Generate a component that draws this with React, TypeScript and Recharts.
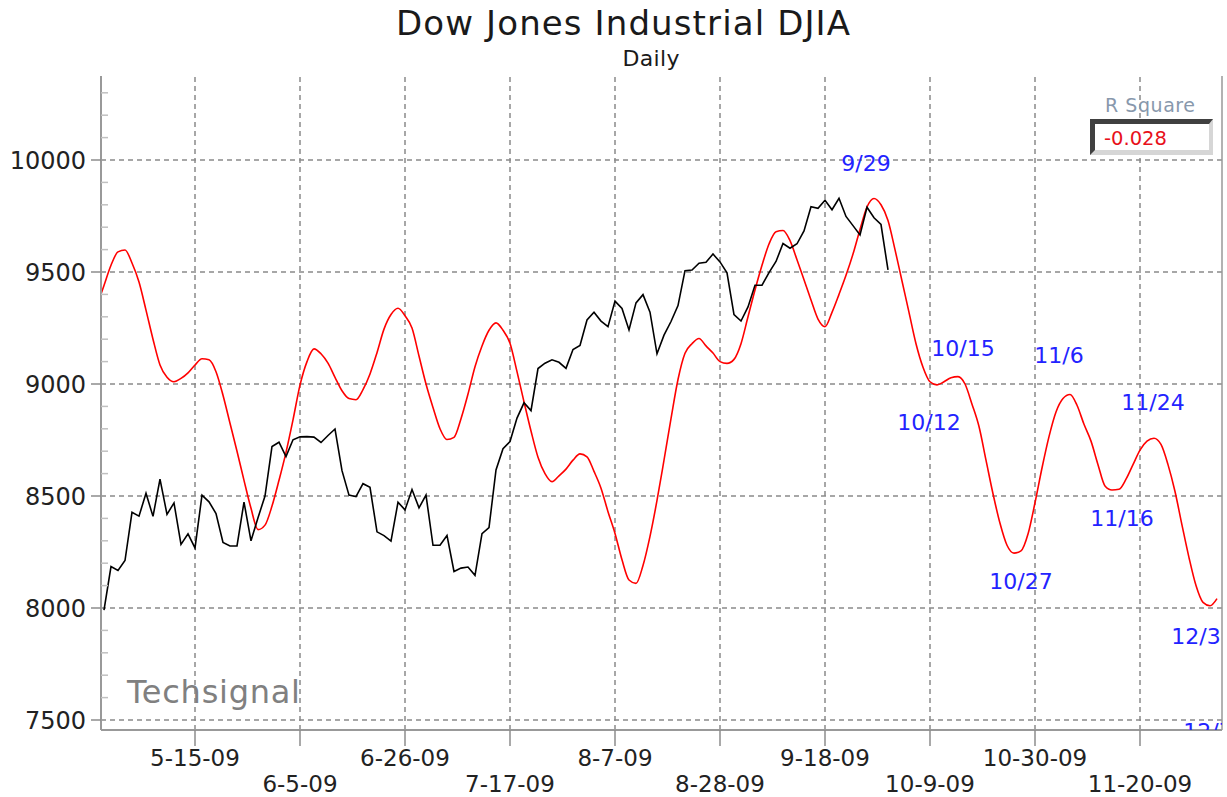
import React from "react";
import {
  LineChart,
  Line,
  XAxis,
  YAxis,
  ReferenceLine,
  ReferenceDot,
} from "recharts";

const FONT = "'DejaVu Sans', Verdana, sans-serif";

// day index = weekday count from 4-28-09 (holidays carry the prior close)
const DJIA_CLOSE = [
  7990, 8185, 8168, 8212, 8427, 8410, 8512, 8409, 8575, 8418, // 0-9
  8469, 8284, 8331, 8268, 8504, 8474, 8422, 8293, 8277, 8277, // 10-19
  8473, 8300, 8403, 8500, 8721, 8740, 8676, 8751, 8764, 8765, // 20-29
  8763, 8739, 8770, 8799, 8613, 8504, 8497, 8555, 8539, 8340, // 30-39
  8323, 8299, 8472, 8438, 8529, 8447, 8504, 8280, 8280, 8324, // 40-49
  8163, 8178, 8183, 8146, 8332, 8359, 8616, 8711, 8743, 8848, // 50-59
  8916, 8881, 9069, 9093, 9108, 9097, 9070, 9154, 9172, 9286, // 60-69
  9320, 9281, 9256, 9370, 9337, 9241, 9362, 9399, 9321, 9135, // 70-79
  9218, 9279, 9350, 9506, 9509, 9539, 9543, 9580, 9545, 9496, // 80-89
  9310, 9281, 9344, 9441, 9441, 9497, 9547, 9627, 9606, 9626, // 90-99
  9683, 9791, 9784, 9820, 9778, 9829, 9748, 9707, 9665, 9789, // 100-109
  9742, 9712, 9509, // 110-112
];

const FORECAST_FIRST_DAY = -1;
const FORECAST = [
  9350, // -1
  9440, 9530, 9590, 9598, 9540, 9455, 9330, 9200, 9085, 9030, // 0-9
  9010, 9025, 9050, 9085, 9113, 9108, 9055, 8950, 8825, 8700, // 10-19
  8570, 8445, 8350, 8370, 8455, 8570, 8695, 8840, 8995, 9100, // 20-29
  9157, 9135, 9093, 9030, 8970, 8935, 8930, 8975, 9045, 9140, // 30-39
  9245, 9310, 9338, 9305, 9250, 9125, 9000, 8895, 8800, 8752, // 40-49
  8762, 8845, 8955, 9077, 9170, 9240, 9273, 9240, 9182, 9055, // 50-59
  8920, 8790, 8673, 8600, 8564, 8590, 8620, 8660, 8688, 8675, // 60-69
  8610, 8535, 8430, 8333, 8215, 8125, 8110, 8190, 8320, 8480, // 70-79
  8660, 8845, 9020, 9137, 9180, 9203, 9170, 9138, 9100, 9092, // 80-89
  9110, 9180, 9300, 9420, 9530, 9625, 9680, 9685, 9640, 9555, // 90-99
  9465, 9375, 9290, 9256, 9320, 9400, 9485, 9580, 9690, 9790, // 100-109
  9828, 9800, 9730, 9600, 9460, 9320, 9180, 9075, 9010, 8996, // 110-119
  9010, 9028, 9033, 9000, 8910, 8810, 8660, 8510, 8378, 8280, // 120-129
  8245, 8255, 8330, 8470, 8625, 8765, 8875, 8935, 8953, 8905, // 130-139
  8820, 8745, 8640, 8545, 8527, 8530, 8575, 8640, 8705, 8745, // 140-149
  8758, 8730, 8640, 8520, 8370, 8225, 8100, 8025, 8010, 8042, // 150-159
];

const TICK_DAYS = [13, 28, 43, 58, 73, 88, 103, 118, 133, 148];
const TICK_LABELS = [
  "5-15-09", "6-5-09", "6-26-09", "7-17-09", "8-7-09",
  "8-28-09", "9-18-09", "10-9-09", "10-30-09", "11-20-09",
];

const Y_GRID = [7500, 8000, 8500, 9000, 9500, 10000];
const Y_TICKS = [
  7500, 7600, 7700, 7800, 7900, 8000, 8100, 8200, 8300, 8400,
  8500, 8600, 8700, 8800, 8900, 9000, 9100, 9200, 9300, 9400,
  9500, 9600, 9700, 9800, 9900, 10000, 10100, 10200, 10300,
];
const RIGHT_TICKS = Array.from({ length: 46 }, (_, k) => k / 5);

// turning points of the forecast curve
const TURN_LABELS = [
  { text: "9/29", day: 110 },
  { text: "10/12", day: 119 },
  { text: "10/15", day: 122 },
  { text: "10/27", day: 130 },
  { text: "11/6", day: 138 },
  { text: "11/16", day: 144 },
  { text: "11/24", day: 150 },
  { text: "12/3", day: 157 },
];
const LABEL_OFFSETS: Record<string, [number, number]> = {
  "9/29": [-8, -35],
  "10/12": [-8, 37],
  "10/15": [5, -29],
  "10/27": [7, 28],
  "11/6": [-11, -39],
  "11/16": [10, 28],
  "11/24": [-1, -36],
  "12/3": [-7, 34],
};

const R_SQUARE = "-0.028";

const PLOT = { left: 101, top: 76, right: 1222, bottom: 730 };

const rows = FORECAST.map((v, k) => {
  const day = FORECAST_FIRST_DAY + k;
  return {
    day,
    forecast: v,
    djia: day >= 0 && day < DJIA_CLOSE.length ? DJIA_CLOSE[day] : null,
  };
});

const forecastAt = (day: number) => FORECAST[day - FORECAST_FIRST_DAY];

function DateTick(props: any) {
  const { x, y, payload } = props;
  const k = TICK_DAYS.indexOf(payload.value);
  return (
    <g>
      <line x1={x} x2={x} y1={y} y2={y + 16} stroke="#8c8c8c" strokeWidth={1.5} />
      <text
        x={x}
        y={y + (k % 2 === 0 ? 36 : 62)}
        textAnchor="middle"
        fontFamily={FONT}
        fontSize={23}
        fill="#222"
      >
        {TICK_LABELS[k]}
      </text>
    </g>
  );
}

function PriceTick(props: any) {
  const { x, y, payload } = props;
  const v = payload.value;
  if (v % 500 !== 0) {
    return <line x1={x} x2={x + 7} y1={y} y2={y} stroke="#c0c0c0" strokeWidth={1.5} />;
  }
  return (
    <g>
      <line x1={x - 10} x2={x} y1={y} y2={y} stroke="#8c8c8c" strokeWidth={1.5} />
      <text
        x={x - 15}
        y={y}
        dy="0.36em"
        textAnchor="end"
        fontFamily={FONT}
        fontSize={24}
        fill="#222"
      >
        {v}
      </text>
    </g>
  );
}

function RightTick(props: any) {
  const { x, y, payload } = props;
  const major = Math.abs(payload.value - Math.round(payload.value)) < 1e-6;
  return (
    <line
      x1={x - (major ? 14 : 10)}
      x2={x + (major ? 3 : 0)}
      y1={y}
      y2={y}
      stroke={major ? "#808080" : "#c8c8c8"}
      strokeWidth={major ? 1.5 : 1}
    />
  );
}

function turnLabel(text: string) {
  const [dx, dy] = LABEL_OFFSETS[text] ?? [0, 0];
  return (p: any) => (
    <text
      x={p.cx + dx}
      y={p.cy + dy}
      dy="0.36em"
      textAnchor="middle"
      fontFamily={FONT}
      fontSize={22}
      fill="#2323ff"
      clipPath="url(#plotClip)"
    >
      {text}
    </text>
  );
}

export default function App() {
  return (
    <div
      style={{
        position: "absolute",
        left: 0,
        top: 0,
        width: 1227,
        height: 797,
        background: "#fff",
      }}
    >
      <LineChart
        width={1227}
        height={797}
        data={rows}
        margin={{ top: PLOT.top, right: 0, bottom: 0, left: 0 }}
      >
        <defs>
          <clipPath id="plotClip">
            <rect
              x={PLOT.left}
              y={PLOT.top}
              width={PLOT.right - PLOT.left}
              height={PLOT.bottom - PLOT.top}
            />
          </clipPath>
        </defs>
        <XAxis
          dataKey="day"
          type="number"
          domain={[-3 / 7, -3 / 7 + 1121 / 7]}
          allowDataOverflow
          ticks={TICK_DAYS}
          interval={0}
          height={67}
          tickSize={0}
          tickMargin={0}
          tick={<DateTick />}
          axisLine={{ stroke: "#999", strokeWidth: 2 }}
        />
        <YAxis
          yAxisId="p"
          type="number"
          domain={[7455.357, 10375]}
          allowDataOverflow
          ticks={Y_TICKS}
          interval={0}
          width={101}
          tickSize={0}
          tickMargin={0}
          tick={<PriceTick />}
          axisLine={{ stroke: "#999", strokeWidth: 2 }}
        />
        <YAxis
          yAxisId="r"
          orientation="right"
          type="number"
          domain={[0, 9]}
          ticks={RIGHT_TICKS}
          interval={0}
          width={5}
          tickSize={0}
          tickMargin={0}
          tick={<RightTick />}
          axisLine={{ stroke: "#999", strokeWidth: 1.5 }}
        />
        {Y_GRID.map((v) => (
          <ReferenceLine
            key={"h" + v}
            yAxisId="p"
            y={v}
            stroke="#8a8a8a"
            strokeWidth={1.5}
            strokeDasharray="5 4"
          />
        ))}
        {TICK_DAYS.map((d) => (
          <ReferenceLine
            key={"v" + d}
            yAxisId="p"
            x={d}
            stroke="#8a8a8a"
            strokeWidth={1.5}
            strokeDasharray="5 4"
          />
        ))}
        <Line
          yAxisId="p"
          type="monotone"
          dataKey="forecast"
          stroke="#ff0000"
          strokeWidth={1.6}
          dot={false}
          isAnimationActive={false}
        />
        <Line
          yAxisId="p"
          type="linear"
          dataKey="djia"
          stroke="#000"
          strokeWidth={1.6}
          dot={false}
          isAnimationActive={false}
        />
        {TURN_LABELS.map((t) => (
          <ReferenceDot
            key={t.text}
            yAxisId="p"
            x={t.day}
            y={forecastAt(t.day)}
            r={0}
            shape={turnLabel(t.text)}
          />
        ))}
        <ReferenceDot
          yAxisId="p"
          x={157}
          y={7500}
          r={0}
          shape={(p: any) => (
            <text
              x={p.cx + 5}
              y={p.cy + 11}
              dy="0.36em"
              textAnchor="middle"
              fontFamily={FONT}
              fontSize={22}
              fill="#2323ff"
              clipPath="url(#plotClip)"
            >
              12/7
            </text>
          )}
        />
      </LineChart>
      <svg
        width={1227}
        height={797}
        style={{ position: "absolute", left: 0, top: 0, pointerEvents: "none" }}
      >
        <text
          x={623}
          y={35}
          textAnchor="middle"
          fontFamily={FONT}
          fontSize={34}
          fill="#1a1a1a"
          textLength={454}
          lengthAdjust="spacing"
        >
          Dow Jones Industrial DJIA
        </text>
        <text
          x={651}
          y={66}
          textAnchor="middle"
          fontFamily={FONT}
          fontSize={22}
          fill="#1a1a1a"
          textLength={57}
          lengthAdjust="spacing"
        >
          Daily
        </text>
        <text
          x={127}
          y={703}
          fontFamily={FONT}
          fontSize={32}
          fill="#808080"
          textLength={173}
          lengthAdjust="spacing"
        >
          Techsignal
        </text>
        <text
          x={1150}
          y={112}
          textAnchor="middle"
          fontFamily={FONT}
          fontSize={19}
          fill="#8898ac"
          textLength={90}
          lengthAdjust="spacing"
        >
          R Square
        </text>
        <rect x={1090} y={119} width={123} height={36} fill="#d6d6d6" />
        <polygon
          points="1090,119 1213,119 1209,124 1095,124 1095,150 1090,155"
          fill="#404040"
        />
        <rect x={1095} y={124} width={114} height={26} fill="#fff" />
        <text
          x={1104}
          y={145}
          fontFamily={FONT}
          fontSize={19.5}
          fill="#e8101a"
        >
          {R_SQUARE}
        </text>
      </svg>
    </div>
  );
}
